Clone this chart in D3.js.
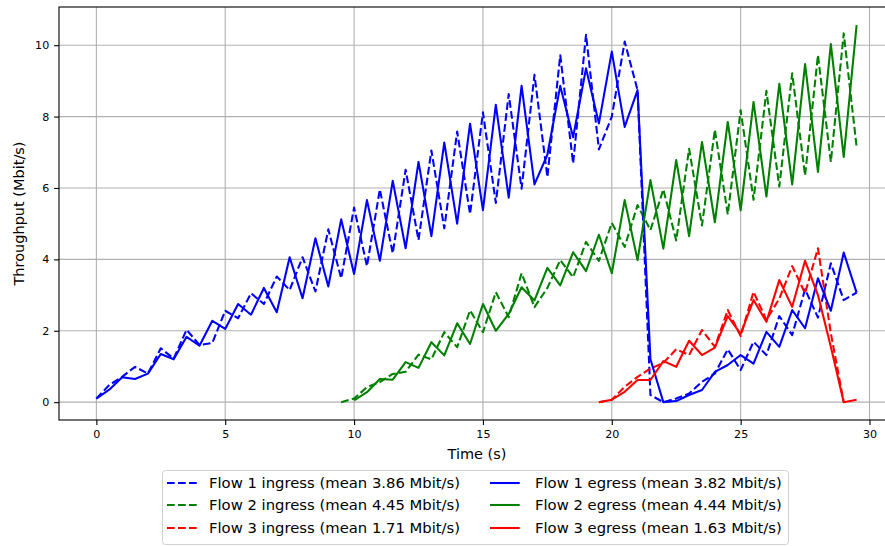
<!DOCTYPE html>
<html>
<head>
<meta charset="utf-8">
<script src="https://cdn.jsdelivr.net/npm/d3@7"></script>
<style>
  html, body { margin: 0; padding: 0; background: #fff; }
  svg { display: block; font-family: "DejaVu Sans", sans-serif; }
</style>
</head>
<body>
<svg id="chart" width="885" height="546"></svg>
<script>
// ---- data ----
const flow1Times = d3.range(0, 60).map(i => i * 0.5);
const flow1Ingress = [0.10,0.48,0.71,0.99,0.80,1.51,1.22,2.03,1.60,1.66,2.56,2.35,3.05,2.75,3.52,3.14,
  4.06,3.10,4.84,3.47,5.45,3.81,5.96,4.17,6.51,4.54,7.05,4.87,7.58,5.27,8.12,5.58,8.63,5.98,9.17,6.31,
  9.72,6.69,10.29,7.08,8.00,10.10,8.74,0.20,0.00,0.10,0.24,0.57,0.80,1.48,0.90,1.69,1.32,2.41,1.88,3.16,
  2.37,3.89,2.86,3.07];
const flow1Egress = [0.10,0.35,0.70,0.65,0.80,1.35,1.20,1.83,1.58,2.28,2.05,2.75,2.45,3.20,2.52,4.06,
  2.91,4.59,3.24,5.12,3.59,5.66,3.96,6.20,4.31,6.73,4.65,7.27,5.00,7.80,5.38,8.33,5.73,8.86,6.10,6.93,
  8.86,7.42,9.35,7.81,9.82,7.71,8.74,1.20,0.00,0.03,0.20,0.34,0.85,1.04,1.32,1.08,1.97,1.55,2.58,2.07,
  3.47,2.56,4.19,3.07];

const flow2IngressTimes = d3.range(19, 60).map(i => i * 0.5);
const flow2Ingress = [0.00,0.10,0.42,0.56,0.79,0.85,1.33,1.20,1.96,1.54,2.57,1.96,3.08,2.38,3.61,2.66,
  3.20,3.98,3.50,4.49,3.96,5.02,4.35,5.52,4.82,5.96,4.53,7.10,4.95,7.63,5.26,8.18,5.67,8.72,6.04,9.21,
  6.35,9.72,6.73,10.33,7.15];
const flow2EgressTimes = d3.range(20, 60).map(i => i * 0.5);
const flow2Egress = [0.05,0.28,0.65,0.63,1.12,0.96,1.68,1.31,2.21,1.63,2.75,2.00,2.47,3.22,2.85,3.76,
  3.27,4.20,3.67,4.69,3.61,5.66,3.98,6.22,4.30,6.78,4.65,7.29,5.04,7.85,5.37,8.41,5.76,8.92,6.10,9.47,
  6.45,10.03,6.87,10.56];

const flow3IngressTimes = d3.range(39, 59).map(i => i * 0.5);
const flow3Ingress = [0.00,0.07,0.43,0.71,0.94,1.10,1.48,1.32,2.02,1.55,2.58,1.85,3.09,2.30,2.90,3.81,
  3.05,4.31,1.93,0.00];
const flow3EgressTimes = d3.range(39, 60).map(i => i * 0.5);
const flow3Egress = [0.00,0.07,0.29,0.62,0.62,1.15,0.99,1.72,1.32,1.53,2.41,1.91,2.86,2.25,3.42,2.67,
  3.96,3.00,1.55,0.00,0.07];

const xTicks = [0, 5, 10, 15, 20, 25, 30];
const yTicks = [0, 2, 4, 6, 8, 10];
const legendLabels = [
  "Flow 1 ingress (mean 3.86 Mbit/s)", "Flow 2 ingress (mean 4.45 Mbit/s)", "Flow 3 ingress (mean 1.71 Mbit/s)",
  "Flow 1 egress (mean 3.82 Mbit/s)", "Flow 2 egress (mean 4.44 Mbit/s)", "Flow 3 egress (mean 1.63 Mbit/s)"
];

// ---- layout ----
const svg = d3.select("#chart");
const L = 59, R = 894.5, T = 7, B = 420;
const x = d3.scaleLinear().domain([-1.45, 30.97]).range([L, R]);
const y = d3.scaleLinear().domain([-0.5, 11.07]).range([B, T]);
const LW = 2.08, DASH = "7.7,3.3";

const series = [
  {t: flow1Times, v: flow1Ingress, color: "#0000ff", dash: true},
  {t: flow2IngressTimes, v: flow2Ingress, color: "#008000", dash: true},
  {t: flow3IngressTimes, v: flow3Ingress, color: "#ff0000", dash: true},
  {t: flow1Times, v: flow1Egress, color: "#0000ff", dash: false},
  {t: flow2EgressTimes, v: flow2Egress, color: "#008000", dash: false},
  {t: flow3EgressTimes, v: flow3Egress, color: "#ff0000", dash: false}
];

svg.append("defs").append("clipPath").attr("id", "clip")
  .append("rect").attr("x", L).attr("y", T).attr("width", R - L).attr("height", B - T);

// grid
const grid = svg.append("g");
grid.selectAll(".gx").data(xTicks).enter().append("line")
  .attr("x1", d => x(d)).attr("x2", d => x(d)).attr("y1", T).attr("y2", B)
  .attr("stroke", "#b0b0b0").attr("stroke-width", 1.1);
grid.selectAll(".gy").data(yTicks).enter().append("line")
  .attr("x1", L).attr("x2", R).attr("y1", d => y(d)).attr("y2", d => y(d))
  .attr("stroke", "#b0b0b0").attr("stroke-width", 1.1);

// lines
const plot = svg.append("g").attr("clip-path", "url(#clip)");
series.forEach(s => {
  const pts = s.t.map((t, i) => [t, s.v[i]]);
  plot.append("path")
    .datum(pts)
    .attr("fill", "none")
    .attr("stroke", s.color)
    .attr("stroke-width", LW)
    .attr("stroke-linejoin", "round")
    .attr("stroke-dasharray", s.dash ? DASH : null)
    .attr("d", d3.line().x(d => x(d[0])).y(d => y(d[1])));
});

// axes
const xAxis = svg.append("g").attr("transform", `translate(0,${B})`)
  .call(d3.axisBottom(x).tickValues(xTicks).tickSize(4.9).tickPadding(4.9).tickFormat(d3.format("d")));
const yAxis = svg.append("g").attr("transform", `translate(${L},0)`)
  .call(d3.axisLeft(y).tickValues(yTicks).tickSize(4.9).tickPadding(4.9).tickFormat(d3.format("d")));
[xAxis, yAxis].forEach(a => {
  a.select(".domain").remove();
  a.selectAll("text").attr("font-size", "11.1px").attr("fill", "#000").attr("font-family", "DejaVu Sans");
  a.selectAll("line").attr("stroke", "#000").attr("stroke-width", 1.1);
});

// frame
svg.append("rect").attr("x", L).attr("y", T).attr("width", R - L).attr("height", B - T)
  .attr("fill", "none").attr("stroke", "#000").attr("stroke-width", 1.1);

// axis labels
svg.append("text").attr("x", 477).attr("y", 459)
  .attr("text-anchor", "middle").attr("font-size", "14.5px").text("Time (s)");
svg.append("text").attr("transform", `translate(24,${(T + B) / 2}) rotate(-90)`)
  .attr("text-anchor", "middle").attr("font-size", "14.5px").text("Throughput (Mbit/s)");

// legend
const lg = svg.append("g");
lg.append("rect").attr("x", 162.5).attr("y", 470.5).attr("width", 626).attr("height", 74)
  .attr("rx", 3).attr("fill", "#fff").attr("stroke", "#d0d0d0").attr("stroke-width", 1);
const colX = [167, 490];
const textX = [209, 535];
const rowY = [483, 505, 528];
series.forEach((s, i) => {
  const col = Math.floor(i / 3), row = i % 3;
  const yy = rowY[row];
  lg.append("line").attr("x1", colX[col]).attr("x2", colX[col] + 29.7).attr("y1", yy).attr("y2", yy)
    .attr("stroke", s.color).attr("stroke-width", LW)
    .attr("stroke-dasharray", s.dash ? DASH : null);
  lg.append("text").attr("x", textX[col]).attr("y", yy).attr("dy", "0.35em")
    .attr("font-size", "14.8px").text(legendLabels[i]);
});
</script>
</body>
</html>
